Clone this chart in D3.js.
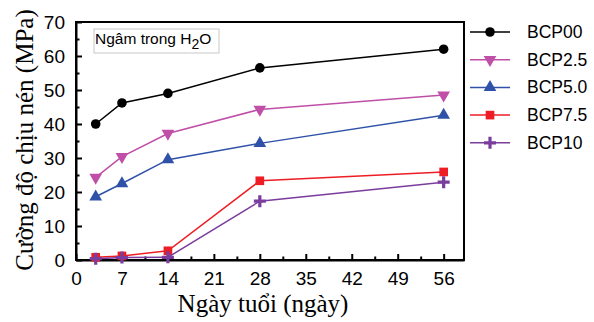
<!DOCTYPE html>
<html>
<head>
<meta charset="utf-8">
<script src="https://cdn.jsdelivr.net/npm/d3@7"></script>
<style>
  body { margin: 0; background: #fff; }
  svg { display: block; }
</style>
</head>
<body>
<script>
// data
const days = [3, 7, 14, 28, 56];
const seriesNames = ["BCP00", "BCP2.5", "BCP5.0", "BCP7.5", "BCP10"];
const bcp00 = [40.0, 46.2, 49.0, 56.5, 62.0];
const bcp25 = [24.3, 30.4, 37.2, 44.3, 48.5];
const bcp50 = [18.6, 22.5, 29.5, 34.3, 42.6];
const bcp75 = [0.8, 1.2, 2.7, 23.3, 25.9];
const bcp10 = [0.4, 0.7, 0.8, 17.3, 22.9];
const xTicks = [0, 7, 14, 21, 28, 35, 42, 49, 56];
const yTicks = [0, 10, 20, 30, 40, 50, 60, 70];

const colors = ["#000000", "#c04fa8", "#2f52a8", "#ee1d25", "#7a3d9d"];
const symbols = [d3.symbolCircle, "down", d3.symbolTriangle, d3.symbolSquare, "plus"];
const allValues = [bcp00, bcp25, bcp50, bcp75, bcp10];

const width = 594, height = 322;
const margin = { top: 22, right: 130, bottom: 62, left: 76 };

const svg = d3.select("body").append("svg")
  .attr("width", width)
  .attr("height", height);

const x = d3.scaleLinear().domain([0, 59.1]).range([margin.left, width - margin.right]);
const y = d3.scaleLinear().domain([0, 70]).range([height - margin.bottom, margin.top]);

// frame
svg.append("rect")
  .attr("x", x(0)).attr("y", y(70))
  .attr("width", x(59.1) - x(0)).attr("height", y(0) - y(70))
  .attr("fill", "none").attr("stroke", "#000").attr("stroke-width", 2);

// x axis (ticks inside)
const xAxis = svg.append("g")
  .attr("transform", `translate(0, ${y(0)})`)
  .call(d3.axisBottom(x).tickValues(xTicks).tickSizeInner(-6).tickSizeOuter(0).tickPadding(12));
xAxis.selectAll(".tick text").style("font-family", "Liberation Sans, Arial").style("font-size", "19px");
xAxis.select(".domain").attr("stroke-width", 2);
xAxis.selectAll(".tick line").attr("stroke-width", 2);
svg.append("g")
  .attr("transform", `translate(0, ${y(0)})`)
  .call(d3.axisBottom(x).tickValues(d3.range(3.5, 56, 7)).tickSize(-3.5).tickFormat(""))
  .call(g => g.select(".domain").remove())
  .selectAll(".tick line").attr("stroke-width", 2);

// y axis (ticks inside)
const yAxis = svg.append("g")
  .attr("transform", `translate(${x(0)}, 0)`)
  .call(d3.axisLeft(y).tickValues(yTicks).tickSizeInner(-6).tickSizeOuter(0).tickPadding(11));
yAxis.selectAll(".tick text").style("font-family", "Liberation Sans, Arial").style("font-size", "19px");
yAxis.select(".domain").attr("stroke-width", 2);
yAxis.selectAll(".tick line").attr("stroke-width", 2);
svg.append("g")
  .attr("transform", `translate(${x(0)}, 0)`)
  .call(d3.axisLeft(y).tickValues(d3.range(5, 70, 10)).tickSize(-3.5).tickFormat(""))
  .call(g => g.select(".domain").remove())
  .selectAll(".tick line").attr("stroke-width", 2);

// marker helper
function drawMarker(g, type, color) {
  if (type === "down") {
    g.append("path").attr("d", d3.symbol(d3.symbolTriangle, 70)()).attr("transform", "rotate(180)").attr("fill", color);
  } else if (type === "plus") {
    g.append("path").attr("d", "M-6,0H6M0,-6V6").attr("stroke", color).attr("stroke-width", 3.2);
  } else if (type === d3.symbolSquare) {
    g.append("path").attr("d", d3.symbol(type, 75)()).attr("fill", color);
  } else if (type === d3.symbolCircle) {
    g.append("path").attr("d", d3.symbol(type, 72)()).attr("fill", color);
  } else {
    g.append("path").attr("d", d3.symbol(type, 70)()).attr("fill", color);
  }
}

const line = d3.line().x(d => x(d[0])).y(d => y(d[1]));

allValues.forEach((vals, i) => {
  const pts = days.map((d, j) => [d, vals[j]]);
  const g = svg.append("g");
  g.append("path").datum(pts)
    .attr("d", line)
    .attr("fill", "none")
    .attr("stroke", colors[i])
    .attr("stroke-width", 1.5);
  g.selectAll(".m").data(pts).enter().append("g")
    .attr("transform", d => `translate(${x(d[0])},${y(d[1])})`)
    .each(function () { drawMarker(d3.select(this), symbols[i], colors[i]); });
});

// legend
const legend = svg.append("g");
seriesNames.forEach((name, i) => {
  const ly = 32 + i * 27.7;
  legend.append("line")
    .attr("x1", 470).attr("x2", 510).attr("y1", ly).attr("y2", ly)
    .attr("stroke", colors[i]).attr("stroke-width", 1.5);
  drawMarker(legend.append("g").attr("transform", `translate(490,${ly})`), symbols[i], colors[i]);
  legend.append("text")
    .attr("x", 527).attr("y", ly + 6)
    .style("font-family", "Liberation Sans, Arial").style("font-size", "17.5px")
    .text(name);
});

// annotation box
svg.append("rect")
  .attr("x", 94).attr("y", 29).attr("width", 125).attr("height", 24)
  .attr("fill", "#fff").attr("stroke", "#c8c8c8").attr("stroke-width", 1);
const note = svg.append("text")
  .attr("x", 95).attr("y", 44)
  .style("font-family", "Liberation Sans, Arial").style("font-size", "15.5px");
note.append("tspan").text("Ngâm trong H");
note.append("tspan").attr("dy", 5).style("font-size", "14px").text("2");
note.append("tspan").attr("dy", -5).text("O");

// axis titles
svg.append("text")
  .attr("x", 263).attr("y", 312)
  .attr("text-anchor", "middle")
  .style("font-family", "Liberation Serif, Times New Roman").style("font-size", "25px")
  .text("Ngày tuổi (ngày)");
svg.append("text")
  .attr("transform", `translate(33, 140) rotate(-90)`)
  .attr("text-anchor", "middle")
  .style("font-family", "Liberation Serif, Times New Roman").style("font-size", "25px")
  .text("Cường độ chịu nén (MPa)");
</script>
</body>
</html>
